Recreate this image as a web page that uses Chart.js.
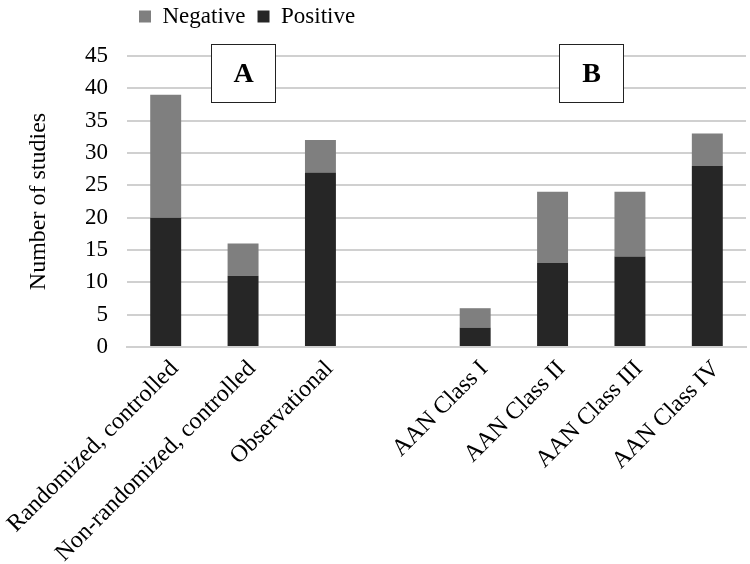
<!DOCTYPE html>
<html>
<head>
<meta charset="utf-8">
<script src="https://cdn.jsdelivr.net/npm/chart.js@4/dist/chart.umd.min.js"></script>
<style>
  body { margin: 0; background: #fff; }
  #wrap { width: 750px; height: 564px; }
</style>
</head>
<body>
<div id="wrap"><canvas id="studyChart" width="750" height="564"></canvas></div>
<script>
// categories (empty slot separates group A from group B)
var categories = ["Randomized, controlled", "Non-randomized, controlled", "Observational", "",
    "AAN Class I", "AAN Class II", "AAN Class III", "AAN Class IV"];
var positive = [20, 11, 27, null, 3, 13, 14, 28];
var negative = [19, 5, 5, null, 3, 11, 10, 5];
var yTicks = [0, 5, 10, 15, 20, 25, 30, 35, 40, 45];
var panelLabels = ["A", "B"];

var serif = "'Liberation Serif', 'DejaVu Serif', serif";

// panel boxes A / B over each group
var panelBoxes = {
    id: 'panelBoxes',
    afterDraw: function(chart) {
        var ctx = chart.ctx;
        var x = chart.scales.x;
        var top = chart.chartArea.top;
        var centers = [x.getPixelForValue(1), (x.getPixelForValue(4) + x.getPixelForValue(7)) / 2];
        ctx.save();
        centers.forEach(function(cx, i) {
            var w = 64, h = 58;
            var bx = Math.round(cx - w / 2) + 0.5, by = top - 12 + 0.5;
            ctx.fillStyle = '#fff';
            ctx.fillRect(bx, by, w, h);
            ctx.strokeStyle = '#222';
            ctx.lineWidth = 1;
            ctx.strokeRect(bx, by, w, h);
            ctx.fillStyle = '#000';
            ctx.font = "bold 28px " + serif;
            ctx.textAlign = 'center';
            ctx.textBaseline = 'middle';
            ctx.fillText(panelLabels[i], bx + w / 2, by + h / 2 + 1);
        });
        ctx.restore();
    }
};

// move the legend so it starts above the plot area and sits near the top edge
var legendShift = {
    id: 'legendShift',
    beforeDraw: function(chart) {
        chart.legend.left = chart.chartArea.left;
        chart.legend.top = -7;
    }
};

new Chart(document.getElementById("studyChart"), {
    type: 'bar',
    data: {
        labels: categories,
        datasets: [{
            label: "Positive",
            data: positive,
            backgroundColor: "#262626",
            categoryPercentage: 0.8,
            barPercentage: 0.5
        }, {
            label: "Negative",
            data: negative,
            backgroundColor: "#7f7f7f",
            categoryPercentage: 0.8,
            barPercentage: 0.5
        }]
    },
    options: {
        responsive: false,
        animation: false,
        layout: { padding: { top: 11, right: 4, left: 0, bottom: 0 } },
        plugins: {
            legend: {
                position: 'top',
                align: 'start',
                reverse: true,
                labels: {
                    color: '#000',
                    font: { family: serif, size: 23 },
                    boxWidth: 12,
                    boxHeight: 12,
                    padding: 12
                }
            },
            tooltip: { enabled: false }
        },
        scales: {
            x: {
                stacked: true,
                grid: { display: false },
                border: { display: true, color: '#d0d0d0', width: 2 },
                afterFit: function(axis) {
                    axis.height = 217;
                    axis.paddingLeft = 0;
                },
                ticks: {
                    color: '#000',
                    font: { family: serif, size: 24 },
                    maxRotation: 45,
                    minRotation: 45,
                    autoSkip: false,
                    padding: 0,
                    labelOffset: 9
                }
            },
            y: {
                stacked: true,
                min: 0,
                max: 45,
                afterFit: function(axis) { axis.width = 127; },
                afterBuildTicks: function(axis) {
                    axis.ticks = yTicks.map(function(v) { return { value: v }; });
                },
                grid: { color: '#d0d0d0', lineWidth: 2, drawTicks: false },
                border: { display: false },
                ticks: {
                    color: '#000',
                    font: { family: serif, size: 23 },
                    padding: 19
                },
                title: {
                    display: true,
                    text: "Number of studies",
                    color: '#000',
                    font: { family: serif, size: 24 },
                    padding: { top: 24, bottom: 0 }
                }
            }
        }
    },
    plugins: [panelBoxes, legendShift]
});
</script>
</body>
</html>
